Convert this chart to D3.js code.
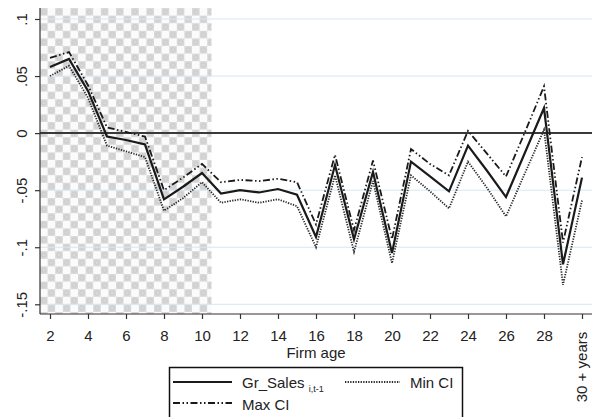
<!DOCTYPE html>
<html>
<head>
<meta charset="utf-8">
<script src="https://cdn.jsdelivr.net/npm/d3@7"></script>
<style>
  html, body { margin: 0; padding: 0; background: #fff; }
  svg { display: block; font-family: "Liberation Sans", Arial, sans-serif; }
</style>
</head>
<body>
<svg id="chart" width="596" height="417"></svg>
<script>
const ages = [2,3,4,5,6,7,8,9,10,11,12,13,14,15,16,17,18,19,20,21,22,23,24,25,26,27,28,29,30];
const grSales = [0.058,0.065,0.037,-0.003,-0.006,-0.010,-0.058,-0.047,-0.035,-0.053,-0.050,-0.052,-0.049,-0.054,-0.091,-0.028,-0.093,-0.034,-0.105,-0.025,-0.038,-0.051,-0.011,-0.033,-0.056,-0.017,0.022,-0.115,-0.039];
const maxCI = [0.066,0.071,0.042,0.005,0.001,-0.003,-0.050,-0.039,-0.027,-0.043,-0.041,-0.042,-0.040,-0.043,-0.080,-0.019,-0.085,-0.024,-0.093,-0.014,-0.027,-0.037,0.002,-0.018,-0.038,0.001,0.041,-0.096,-0.021];
const minCI = [0.050,0.059,0.031,-0.011,-0.016,-0.021,-0.068,-0.057,-0.043,-0.061,-0.058,-0.061,-0.058,-0.064,-0.100,-0.037,-0.104,-0.042,-0.114,-0.037,-0.051,-0.066,-0.025,-0.048,-0.073,-0.035,0.003,-0.133,-0.059];
const yTicks = [0.1, 0.05, 0, -0.05, -0.1, -0.15];
const yTickLabels = [".1", ".05", "0", "-.05", "-.1", "-.15"];
const xTicks = [2,4,6,8,10,12,14,16,18,20,22,24,26,28];
const lastTickValue = 30;
const lastTickLabel = "30 + years";
const shadeEnd = 10.5;

const svg = d3.select("#chart");
const plot = { left: 40, right: 592, top: 8, bottom: 314 };
const x = d3.scaleLinear().domain([2, 30]).range([50, 582]);
const y = d3.scaleLinear().domain([-0.15, 0.1]).range([304.3, 19]);
const textColor = "#222";

// checker pattern
const c = 7.6;
const defs = svg.append("defs");
const pat = defs.append("pattern").attr("id", "checker")
  .attr("patternUnits", "userSpaceOnUse")
  .attr("x", plot.left).attr("y", plot.top)
  .attr("width", 2 * c).attr("height", 2 * c);
pat.append("rect").attr("width", 2 * c).attr("height", 2 * c).attr("fill", "#fbfbfb");
[[0, 0], [c, c]].forEach(([px, py]) => {
  pat.append("rect").attr("x", px).attr("y", py).attr("width", c).attr("height", c).attr("fill", "#d9d9d9");
  pat.append("circle").attr("cx", px + c / 2).attr("cy", py + c / 2).attr("r", c * 0.28)
    .attr("fill", "none").attr("stroke", "#c4c4c4").attr("stroke-width", 0.8);
});

svg.append("rect")
  .attr("x", plot.left).attr("y", plot.top)
  .attr("width", x(shadeEnd) - plot.left).attr("height", plot.bottom - plot.top)
  .attr("fill", "url(#checker)");

// gridlines
svg.append("g").selectAll("line").data(yTicks.filter(d => d !== 0)).join("line")
  .attr("x1", plot.left).attr("x2", plot.right)
  .attr("y1", d => y(d)).attr("y2", d => y(d))
  .attr("stroke", "#d6e7ee").attr("stroke-width", 1);

// zero line
svg.append("line")
  .attr("x1", plot.left).attr("x2", plot.right)
  .attr("y1", y(0)).attr("y2", y(0))
  .attr("stroke", "#3a3a3a").attr("stroke-width", 2);

// axes
const yAxis = d3.axisLeft(y).tickValues(yTicks).tickSize(5).tickFormat((d, i) => yTickLabels[i]);
const gy = svg.append("g").attr("transform", `translate(${plot.left},0)`).call(yAxis);
gy.select(".domain").attr("d", `M0,${plot.top}V${plot.bottom}`).attr("stroke", "#333").attr("stroke-width", 1.2);
gy.selectAll(".tick line").attr("stroke", "#333").attr("stroke-width", 1.2);
gy.selectAll(".tick text")
  .attr("transform", "rotate(-90)")
  .attr("x", 0).attr("y", -13).attr("dy", 0)
  .attr("text-anchor", "middle")
  .attr("font-size", 15).attr("fill", textColor)
  .attr("font-family", "Liberation Sans, Arial, sans-serif");

const xAxis = d3.axisBottom(x).tickValues(xTicks.concat([lastTickValue])).tickSize(5)
  .tickFormat(d => d === lastTickValue ? "" : d);
const gx = svg.append("g").attr("transform", `translate(0,${plot.bottom})`).call(xAxis);
gx.select(".domain").attr("d", `M${plot.left},0H${plot.right}`).attr("stroke", "#333").attr("stroke-width", 1.2);
gx.selectAll(".tick line").attr("stroke", "#333").attr("stroke-width", 1.2);
gx.selectAll(".tick text")
  .attr("y", 27).attr("dy", 0)
  .attr("font-size", 15).attr("fill", textColor)
  .attr("font-family", "Liberation Sans, Arial, sans-serif");

svg.append("text")
  .attr("transform", `translate(${x(lastTickValue) + 5},367) rotate(-90)`)
  .attr("text-anchor", "middle")
  .attr("font-size", 15).attr("fill", textColor)
  .text(lastTickLabel);

svg.append("text")
  .attr("x", 316).attr("y", 357.5)
  .attr("text-anchor", "middle")
  .attr("font-size", 15).attr("fill", textColor)
  .text("Firm age");

// lines
const styles = {
  sales: { dash: null, width: 2.2, color: "#1a1a1a" },
  min: { dash: "1.3,1.3", width: 1.8, color: "#2a2a2a" },
  max: { dash: "7,2.5,1.5,2.5,1.5,2.5", width: 1.8, color: "#1a1a1a" }
};
const line = d3.line().x(d => x(d[0])).y(d => y(d[1]));
function drawSeries(vals, st) {
  svg.append("path")
    .datum(ages.map((a, i) => [a, vals[i]]))
    .attr("d", line)
    .attr("fill", "none")
    .attr("stroke", st.color)
    .attr("stroke-width", st.width)
    .attr("stroke-linejoin", "miter")
    .attr("stroke-dasharray", st.dash);
}
drawSeries(minCI, styles.min);
drawSeries(maxCI, styles.max);
drawSeries(grSales, styles.sales);

// legend
const lg = svg.append("g");
lg.append("rect").attr("x", 169.5).attr("y", 367.5).attr("width", 293).attr("height", 60)
  .attr("fill", "#fff").attr("stroke", "#111").attr("stroke-width", 1.5);
function legendLine(x1, x2, yy, st) {
  lg.append("line").attr("x1", x1).attr("x2", x2).attr("y1", yy).attr("y2", yy)
    .attr("stroke", st.color).attr("stroke-width", st.width).attr("stroke-dasharray", st.dash);
}
legendLine(173, 232, 382, styles.sales);
legendLine(345, 400, 382, styles.min);
legendLine(173, 232, 403, styles.max);
const t1 = lg.append("text").attr("x", 242).attr("y", 388).attr("font-size", 15).attr("fill", textColor);
t1.append("tspan").text("Gr_Sales ");
t1.append("tspan").attr("font-size", 9).attr("dy", 4).text("i,t-1");
lg.append("text").attr("x", 410).attr("y", 388).attr("font-size", 15).attr("fill", textColor).text("Min CI");
lg.append("text").attr("x", 242).attr("y", 410).attr("font-size", 15).attr("fill", textColor).text("Max CI");
</script>
</body>
</html>
